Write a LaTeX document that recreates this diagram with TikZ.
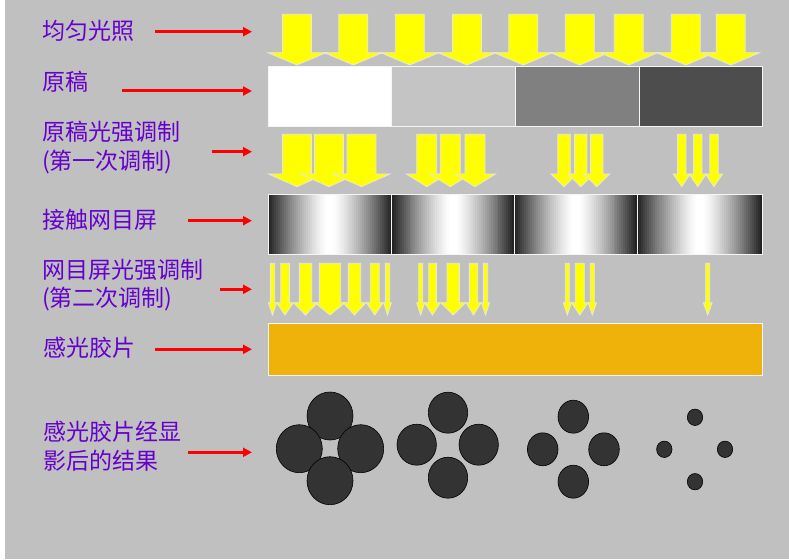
\documentclass[tikz,border=0pt]{standalone}
\usepackage{fontspec}
\newfontfamily\cjk{Noto Sans CJK SC}
\usetikzlibrary{arrows.meta}
\definecolor{bg}{RGB}{192,192,192}
\definecolor{lblc}{RGB}{102,0,204}
\definecolor{filmc}{RGB}{238,178,10}
\definecolor{ylw}{RGB}{255,255,0}
\definecolor{yedge}{RGB}{232,232,222}
\definecolor{dotc}{RGB}{51,51,51}
\definecolor{og}{RGB}{196,196,196}
\definecolor{om}{RGB}{128,128,128}
\definecolor{od}{RGB}{77,77,77}
\newcommand{\yarr}[6]{%
  \filldraw[yarrow] ({#1-#5/2},#2) -- ({#1+#5/2},#2) -- ({#1+#5/2},#3) -- ({#1+#6/2},#3) -- (#1,#4) -- ({#1-#6/2},#3) -- ({#1-#5/2},#3) -- cycle;}
\tikzset{
  yarrow/.style={fill=ylw, draw=yedge, line width=0.8pt, line join=miter},
  boxedge/.style={draw=white!92!gray, line width=0.9pt},
  lbl/.style={anchor=west, inner sep=0pt, text=lblc, align=left, font=\cjk\fontsize{23}{28.5}\selectfont},
  redarr/.style={draw=red, line width=3pt, -{Triangle[length=9pt,width=9pt]}},
  dot/.style={fill=dotc, draw=black, line width=0.6pt}
}
\begin{document}
\begin{tikzpicture}[x=1pt,y=-1pt]
\useasboundingbox (0,0) rectangle (789,559);
\fill[white] (0,0) rectangle (789,559);
\fill[bg] (5,0) rectangle (789,559);

% row 1: uniform light
\foreach \c in {297,353.3,409.8,467,523.3,579.8,628.8,685.8,730.7}
  {\yarr{\c}{14.3}{52.7}{65}{29}{58}}

% row 2: original
\fill[white] (268.3,66) rectangle (391.7,126);
\fill[og] (391.7,66) rectangle (515,126);
\fill[om] (515,66) rectangle (639,126);
\fill[od] (639,66) rectangle (762.3,126);
\foreach \a/\b in {268.3/391.7,391.7/515,515/639,639/762.3}
  {\draw[boxedge] (\a,66) rectangle (\b,126);}

% row 3: first modulation
\foreach \c in {297,329,361.5} {\yarr{\c}{134.3}{174}{186.7}{29}{57}}
\foreach \c in {426.7,450.3,475} {\yarr{\c}{134.3}{174}{186.7}{20}{41}}
\foreach \c in {564,580.7,596.7} {\yarr{\c}{134.3}{174}{186.7}{12.5}{26}}
\foreach \c in {681.7,697.7,714} {\yarr{\c}{134.3}{174}{186.7}{8.5}{17}}

% row 4: contact screen (gradient drawn as thin strips)
\foreach \a/\b in {268.3/391.7,391.7/514.3,514.3/637.3,637.3/762.3}
  {\foreach \k in {0,...,61}
     {\pgfmathsetmacro{\xa}{\a+(\b-\a)*\k/62}
      \pgfmathsetmacro{\xb}{\a+(\b-\a)*(\k+1.4)/62}
      \pgfmathsetmacro{\t}{abs(2*(\k+0.5)/62-1)}
      \pgfmathsetmacro{\v}{88*max(0,(\t-0.05)/0.95)^1.3}
      \fill[black!\v] (\xa,194.3) rectangle ({min(\xb,\b)},254.3);}
   \draw[boxedge] (\a,194.3) rectangle (\b,254.3);}

% row 5: second modulation
\foreach \c/\s/\h in {272.5/4.3/8.3, 285/8.7/16.7, 305.5/12.3/24, 330/21.3/30, 354.5/12.3/22.7, 374.8/9/16.7, 387.5/4.3/7.7,
                      420.7/4/8, 432.5/7.7/15.7, 453.2/12.3/24.7, 473.5/8.3/15, 485.5/4.3/8.3,
                      567.3/4/8.3, 579.8/9/16.7, 592.3/4/8.3, 707.7/4/8.7}
  {\yarr{\c}{263.3}{302.7}{315}{\s}{\h}}

% row 6: film
\filldraw[fill=filmc, boxedge] (268.3,323.7) rectangle (762.3,375.3);

% row 7: developed dots
\foreach \x/\y in {330/416, 299.3/448.7, 360.7/448.7, 330/480.7}
  {\filldraw[dot] (\x,\y) ellipse [x radius=23, y radius=24];}
\foreach \x/\y in {448/412.7, 416.7/444.7, 478.7/444.7, 448/477.7}
  {\filldraw[dot] (\x,\y) ellipse [x radius=19.7, y radius=20.5];}
\foreach \x/\y in {573.3/416.7, 542.7/449.3, 604/449.3, 573.3/481.7}
  {\filldraw[dot] (\x,\y) ellipse [x radius=15.3, y radius=16.5];}
\foreach \x/\y in {695/417.3, 664.3/449.3, 725/449.3, 695/481.7}
  {\filldraw[dot] (\x,\y) ellipse [x radius=7.7, y radius=8.2];}

% labels
\node[lbl] (l1) at (42,31) {均匀光照};
\node[lbl] (l2) at (42,81.5) {原稿};
\node[lbl] (l3) at (42,147.5) {原稿光强调制\\(第一次调制)};
\node[lbl] (l4) at (42,220) {接触网目屏};
\node[lbl] (l5) at (42,285) {网目屏光强调制\\(第二次调制)};
\node[lbl] (l6) at (43,348) {感光胶片};
\node[lbl] (l7) at (43,446) {感光胶片经显\\影后的结果};

% red arrows
\coordinate (s1) at (155,31.7);  \coordinate (e1) at (252,31.7);
\coordinate (s2) at (122,91);    \coordinate (e2) at (252,91);
\coordinate (s3) at (211.7,151.7); \coordinate (e3) at (252,151.7);
\coordinate (s4) at (188,220.7); \coordinate (e4) at (252,220.7);
\coordinate (s5) at (220,289.3); \coordinate (e5) at (252,289.3);
\coordinate (s6) at (155,349.3); \coordinate (e6) at (252,349.3);
\coordinate (s7) at (188,452.3); \coordinate (e7) at (252,452.3);
\foreach \i in {1,...,7} {\draw[redarr] (s\i) -- (e\i);}
\end{tikzpicture}
\end{document}
